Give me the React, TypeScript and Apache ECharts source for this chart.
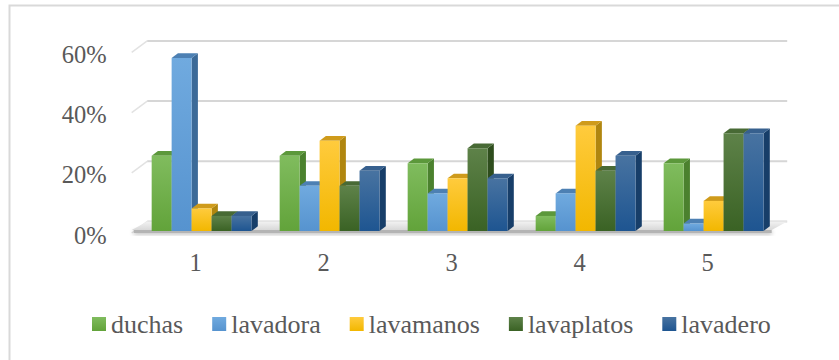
import React, { useEffect, useRef } from "react";
import * as echarts from "echarts";

// Ranking positions (1-5) and the share of answers for each water use
const categories = ["1", "2", "3", "4", "5"];
const seriesNames = ["duchas", "lavadora", "lavamanos", "lavaplatos", "lavadero"];
const duchas = [25, 25, 22.5, 5, 22.5];
const lavadora = [57.5, 15, 12.5, 12.5, 2.5];
const lavamanos = [7.5, 30, 17.5, 35, 10];
const lavaplatos = [5, 15, 27.5, 20, 32.5];
const lavadero = [5, 20, 17.5, 25, 32.5];
const yTicks = [0, 20, 40, 60];

const seriesValues = [duchas, lavadora, lavamanos, lavaplatos, lavadero];

// Face colours of each 3D column: front gradient, top face, side face
const faces = [
  { light: "#80bc5e", base: "#62a33a", top: "#5c983b", side: "#4b812e" },
  { light: "#70aadf", base: "#5693cf", top: "#4d80b3", side: "#3c6a98" },
  { light: "#ffcb3d", base: "#f2b700", top: "#cf9b1b", side: "#b0860f" },
  { light: "#5e8249", base: "#3a6224", top: "#486a35", side: "#2e4d1d" },
  { light: "#4873a1", base: "#1e5591", top: "#37608e", side: "#173e69" },
];

const FONT = "'Liberation Serif', 'Times New Roman', serif";
const TEXT = "#595959";

// Oblique depth of the chart box and of each column
const WALL_DX = 15.5;
const WALL_DY = -9.5;
const BAR_DX = 6.3;
const BAR_DY = -4.7;

const frontGradient = (f: { light: string; base: string }) =>
  new echarts.graphic.LinearGradient(0, 0, 0, 1, [
    { offset: 0, color: f.light },
    { offset: 1, color: f.base },
  ]);

export default function App() {
  const ref = useRef<HTMLDivElement>(null);

  useEffect(() => {
    if (!ref.current) return;
    const chart = echarts.init(ref.current, undefined, { renderer: "svg" });

    const gridLines = {
      type: "custom",
      name: "_grid",
      silent: true,
      z: 1,
      data: yTicks.map((t) => [0, t]),
      encode: { x: 0, y: 1 },
      renderItem: (params: any, api: any) => {
        const cs = params.coordSys;
        const y = api.coord([0, api.value(1)])[1];
        const xl = cs.x;
        const xr = cs.x + cs.width;
        return {
          type: "group",
          children: [
            {
              type: "line",
              shape: { x1: xl, y1: y + 2, x2: xl + WALL_DX, y2: y + WALL_DY },
              style: { stroke: "#e2e2e2", lineWidth: 1.5 },
            },
            {
              type: "line",
              shape: { x1: xl + WALL_DX, y1: y + WALL_DY, x2: xr + WALL_DX, y2: y + WALL_DY },
              style: { stroke: "#d6d6d6", lineWidth: 2 },
            },
          ],
        };
      },
    };

    const floor = {
      type: "custom",
      name: "_floor",
      silent: true,
      z: 1,
      data: [[0, 0]],
      encode: { x: 0, y: 1 },
      renderItem: (params: any, api: any) => {
        const cs = params.coordSys;
        const y = api.coord([0, 0])[1];
        const xl = cs.x;
        const xr = cs.x + cs.width;
        return {
          type: "group",
          children: [
            {
              type: "rect",
              shape: { x: xl + 2, y: y - 1, width: xr - xl - 2, height: 3 },
              style: {
                fill: "#b4b4b4",
                shadowBlur: 4,
                shadowColor: "rgba(0,0,0,0.35)",
                shadowOffsetY: 1,
              },
            },
            {
              type: "polygon",
              shape: {
                points: [
                  [xl, y - 1],
                  [xr, y - 1],
                  [xr + WALL_DX, y + WALL_DY],
                  [xl + WALL_DX, y + WALL_DY],
                ],
              },
              style: {
                fill: new echarts.graphic.LinearGradient(0, 0, 0, 1, [
                  { offset: 0, color: "#f2f2f2" },
                  { offset: 1, color: "#d8d8d8" },
                ]),
              },
            },
          ],
        };
      },
    };

    const bars = seriesNames.map((name, idx) => {
      const f = faces[idx];
      return {
        type: "custom",
        name,
        z: 2,
        itemStyle: { color: frontGradient(f) },
        data: seriesValues[idx].map((v, i) => [i, v]),
        encode: { x: 0, y: 1 },
        renderItem: (params: any, api: any) => {
          const cat = api.value(0);
          const v = api.value(1);
          const base = api.coord([cat, 0]);
          const top = api.coord([cat, v]);
          const band = api.size([1, 0])[0];
          const w = band * 0.156;
          const x0 = base[0] - band * 0.344 + idx * w;
          const yb = base[1];
          const yt = top[1];
          return {
            type: "group",
            children: [
              {
                type: "polygon",
                shape: {
                  points: [
                    [x0 + w, yb],
                    [x0 + w + BAR_DX, yb + BAR_DY],
                    [x0 + w + BAR_DX, yt + BAR_DY],
                    [x0 + w, yt],
                  ],
                },
                style: { fill: f.side },
              },
              {
                type: "polygon",
                shape: {
                  points: [
                    [x0, yt],
                    [x0 + w, yt],
                    [x0 + w + BAR_DX, yt + BAR_DY],
                    [x0 + BAR_DX, yt + BAR_DY],
                  ],
                },
                style: { fill: f.top },
              },
              {
                type: "rect",
                shape: { x: x0, y: yt, width: w, height: yb - yt },
                style: { fill: frontGradient(f) },
              },
            ],
          };
        },
      };
    });

    chart.setOption({
      animation: false,
      backgroundColor: "#ffffff",
      textStyle: { fontFamily: FONT, color: TEXT },
      graphic: [
        {
          type: "rect",
          shape: { x: 9.5, y: 5.5, width: 900, height: 400 },
          style: { fill: "none", stroke: "#d9d9d9", lineWidth: 2 },
          silent: true,
          z: 0,
        },
      ],
      grid: { left: 131.7, right: 67.3, top: 50.4, bottom: 129 },
      xAxis: {
        type: "category",
        data: categories,
        axisLine: { show: false },
        axisTick: { show: false },
        splitLine: { show: false },
        axisLabel: {
          color: TEXT,
          fontFamily: FONT,
          fontSize: 24.5,
          margin: 31,
          verticalAlign: "middle",
        },
      },
      yAxis: {
        type: "value",
        min: 0,
        max: 60,
        interval: 20,
        axisLine: { show: false },
        axisTick: { show: false },
        splitLine: { show: false },
        axisLabel: {
          color: TEXT,
          fontFamily: FONT,
          fontSize: 24.5,
          margin: 25,
          formatter: "{v|{value}%}",
          rich: {
            v: {
              color: TEXT,
              fontFamily: FONT,
              fontSize: 24.5,
              padding: [8, 0, 0, 0],
            },
          },
        },
      },
      legend: {
        data: seriesNames,
        left: 87,
        top: 306,
        icon: "rect",
        itemWidth: 14,
        itemHeight: 14,
        itemGap: 29,
        formatter: "{n|{name}}",
        textStyle: {
          color: TEXT,
          fontFamily: FONT,
          fontSize: 26,
          rich: {
            n: { color: TEXT, fontFamily: FONT, fontSize: 26 },
          },
        },
      },
      series: [gridLines, floor, ...bars],
    });

    return () => chart.dispose();
  }, []);

  return (
    <div
      ref={ref}
      style={{ position: "fixed", left: 0, top: 0, width: 839, height: 360 }}
    />
  );
}
